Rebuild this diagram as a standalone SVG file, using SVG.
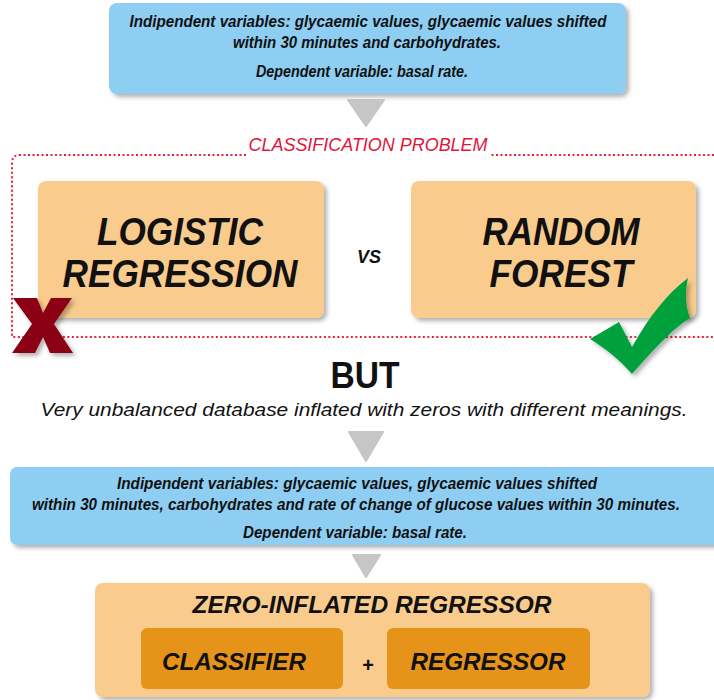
<svg xmlns="http://www.w3.org/2000/svg" width="714" height="700" viewBox="0 0 714 700">
  <defs>
    <filter id="shadow" x="-10%" y="-10%" width="125%" height="130%">
      <feDropShadow dx="3" dy="3" stdDeviation="2" flood-color="#000" flood-opacity="0.3"/>
    </filter>
    <style>
      .blue { fill: #8ECEF3; filter: url(#shadow); }
      .peach { fill: #F9CC8D; filter: url(#shadow); }
      .amber { fill: #E6931A; }
      .tri { fill: #C6C6C6; stroke: #C6C6C6; stroke-width: 2; stroke-linejoin: round; }
      .t { font-family: "Liberation Sans Narrow", "Liberation Sans", Arial, sans-serif; font-style: italic; font-weight: bold; fill: #111; text-anchor: middle; }
      .small { font-size: 16px; }
      .big { font-size: 39px; }
      .mid { font-size: 23px; }
      .red { fill: #E0163C; font-size: 19px; font-weight: normal; }
      .plain { font-family: "Liberation Sans", Arial, sans-serif; fill: #111; text-anchor: middle; }
    </style>
  </defs>

  <!-- first variables box -->
  <g id="vars1">
    <rect class="blue" x="109" y="3" width="517" height="91" rx="8"/>
    <text class="t small" x="368" y="27" textLength="477" lengthAdjust="spacingAndGlyphs">Indipendent variables: glycaemic values, glycaemic values shifted</text>
    <text class="t small" x="367" y="48" textLength="268" lengthAdjust="spacingAndGlyphs">within 30 minutes and carbohydrates.</text>
    <text class="t small" x="362" y="77" textLength="212" lengthAdjust="spacingAndGlyphs">Dependent variable: basal rate.</text>
  </g>

  <!-- classification frame -->
  <g id="classification">
    <path d="M714,155 H20 Q12,155 12,163 V337 H714" fill="none" stroke="#E8203F" stroke-width="2" stroke-dasharray="2,2.5"/>
    <rect x="246" y="134" width="244" height="22" fill="#fff"/>
    <text class="t red" x="368" y="151" textLength="239" lengthAdjust="spacingAndGlyphs">CLASSIFICATION PROBLEM</text>
  </g>

  <g id="logistic">
    <rect class="peach" x="38" y="181" width="286" height="137" rx="8"/>
    <text class="t big" x="180" y="245" textLength="166" lengthAdjust="spacingAndGlyphs">LOGISTIC</text>
    <text class="t big" x="180" y="287" textLength="235" lengthAdjust="spacingAndGlyphs">REGRESSION</text>
  </g>

  <g id="vs">
    <text class="t" x="369" y="263" font-size="19" textLength="24" lengthAdjust="spacingAndGlyphs">VS</text>
  </g>

  <g id="forest">
    <rect class="peach" x="411" y="181" width="285" height="137" rx="8"/>
    <text class="t big" x="561" y="245" textLength="157" lengthAdjust="spacingAndGlyphs">RANDOM</text>
    <text class="t big" x="561" y="287" textLength="143" lengthAdjust="spacingAndGlyphs">FOREST</text>
  </g>

  <!-- rejected / accepted marks -->
  <g id="cross" filter="url(#shadow)">
    <polygon fill="#8C0019" points="13,298 37,298 43,313 51,298 72,298 54,324 73,353 50,353 43,337 35,353 12,353 32,324"/>
  </g>
  <g id="tick" filter="url(#shadow)">
    <path fill="#00A03E" d="M590,339 L619,322 L632,347 C650,315 668,293 688,278 C685,291 685,305 690,318 C678,325 660,342 632,374 C620,360 606,349 590,339 Z"/>
  </g>

  <g id="but">
    <text class="plain" x="365" y="388" font-size="36" font-weight="bold" textLength="69" lengthAdjust="spacingAndGlyphs">BUT</text>
    <text class="plain" x="364" y="416" font-size="19" font-style="italic" textLength="647" lengthAdjust="spacingAndGlyphs">Very unbalanced database inflated with zeros with different meanings.</text>
  </g>

  <!-- second variables box -->
  <g id="vars2">
    <rect class="blue" x="10" y="467" width="712" height="78" rx="7"/>
    <text class="t small" x="357" y="489" textLength="480" lengthAdjust="spacingAndGlyphs">Indipendent variables: glycaemic values, glycaemic values shifted</text>
    <text class="t small" x="356" y="510" textLength="648" lengthAdjust="spacingAndGlyphs">within 30 minutes, carbohydrates and rate of change of glucose values within 30 minutes.</text>
    <text class="t small" x="355" y="538" textLength="224" lengthAdjust="spacingAndGlyphs">Dependent variable: basal rate.</text>
  </g>

  <!-- zero-inflated regressor -->
  <g id="zir">
    <rect class="peach" x="95" y="583" width="555" height="114" rx="8"/>
    <text class="t mid" x="372" y="613" textLength="359" lengthAdjust="spacingAndGlyphs">ZERO-INFLATED REGRESSOR</text>
  </g>
  <g id="classifier">
    <rect class="amber" x="141" y="628" width="202" height="61" rx="6"/>
    <text class="t mid" x="234" y="670" textLength="144" lengthAdjust="spacingAndGlyphs">CLASSIFIER</text>
  </g>
  <g id="plus">
    <text class="plain" x="368" y="672" font-size="20" font-weight="bold">+</text>
  </g>
  <g id="regressor">
    <rect class="amber" x="387" y="628" width="203" height="61" rx="6"/>
    <text class="t mid" x="488" y="670" textLength="155" lengthAdjust="spacingAndGlyphs">REGRESSOR</text>
  </g>

  <!-- flow arrows -->
  <g id="connectors">
    <polygon class="tri" points="348,100 384,100 366,126"/>
    <polygon class="tri" points="349,432 383,432 366,461"/>
    <polygon class="tri" points="353,555 380,555 366,577"/>
  </g>
</svg>
